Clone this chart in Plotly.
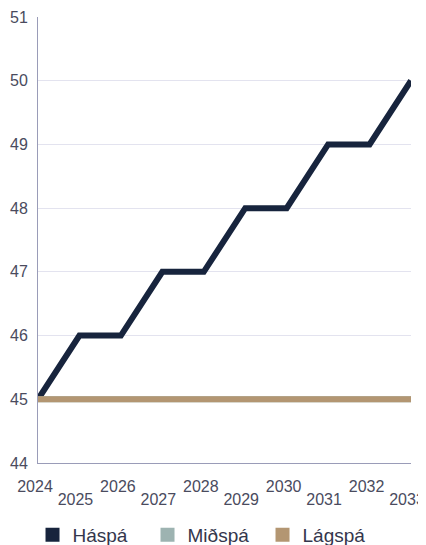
import plotly.graph_objects as go

years = [2024, 2025, 2026, 2027, 2028, 2029, 2030, 2031, 2032, 2033]
haspa = [45, 46, 46, 47, 47, 48, 48, 49, 49, 50]
midspa = [45, 45, 45, 45, 45, 45, 45, 45, 45, 45]
lagspa = [45, 45, 45, 45, 45, 45, 45, 45, 45, 45]
series_names = ["Háspá", "Miðspá", "Lágspá"]
series_colors = ["#17243d", "#9db3b1", "#b39672"]
even_years = [y for y in years if y % 2 == 0]
odd_years = [y for y in years if y % 2 == 1]

fig = go.Figure()
for name, vals, col in zip(series_names, [haspa, midspa, lagspa], series_colors):
    fig.add_trace(go.Scatter(x=years, y=vals, mode="lines", name=name,
                             line=dict(color=col, width=6), showlegend=False,
                             cliponaxis=False))
for name, col in zip(series_names, series_colors):
    fig.add_trace(go.Scatter(x=[None], y=[None], mode="markers", name=name,
                             xaxis="x2",
                             marker=dict(symbol="square", size=14, color=col)))

tickcol = "#4a4b5e"
fig.update_layout(
    width=426, height=545,
    margin=dict(l=30, r=23, t=9, b=90, autoexpand=False),
    plot_bgcolor="white", paper_bgcolor="white",
    font=dict(family="Liberation Sans, Arial, sans-serif", size=16, color=tickcol),
    showlegend=True,
    legend=dict(orientation="h", x=-0.0147, xanchor="left", y=-0.161, yanchor="middle",
                font=dict(size=19, color="#34364c"), itemwidth=30, entrywidth=70,
                traceorder="normal"),
    xaxis=dict(range=[2024, 2033], tickvals=even_years, ticktext=[str(y) for y in even_years],
               showgrid=False, showline=True, linecolor="#9a9cb8", linewidth=1,
               ticks="", zeroline=False, ticklabelstandoff=9, ticklabelshift=-3,
               automargin=False),
    xaxis2=dict(range=[2024, 2033], tickvals=odd_years, ticktext=[str(y) for y in odd_years],
                overlaying="x", anchor="y", side="bottom", showgrid=False, showline=False,
                ticks="", zeroline=False, ticklabelstandoff=25, ticklabelshift=-4,
                automargin=False),
    yaxis=dict(range=[44, 51], dtick=1, showgrid=True, gridcolor="#e3e3ef",
               showline=True, linecolor="#9a9cb8", linewidth=1, ticks="",
               zeroline=False, ticklabelstandoff=6, automargin=False),
)
fig.write_html("out.html")
